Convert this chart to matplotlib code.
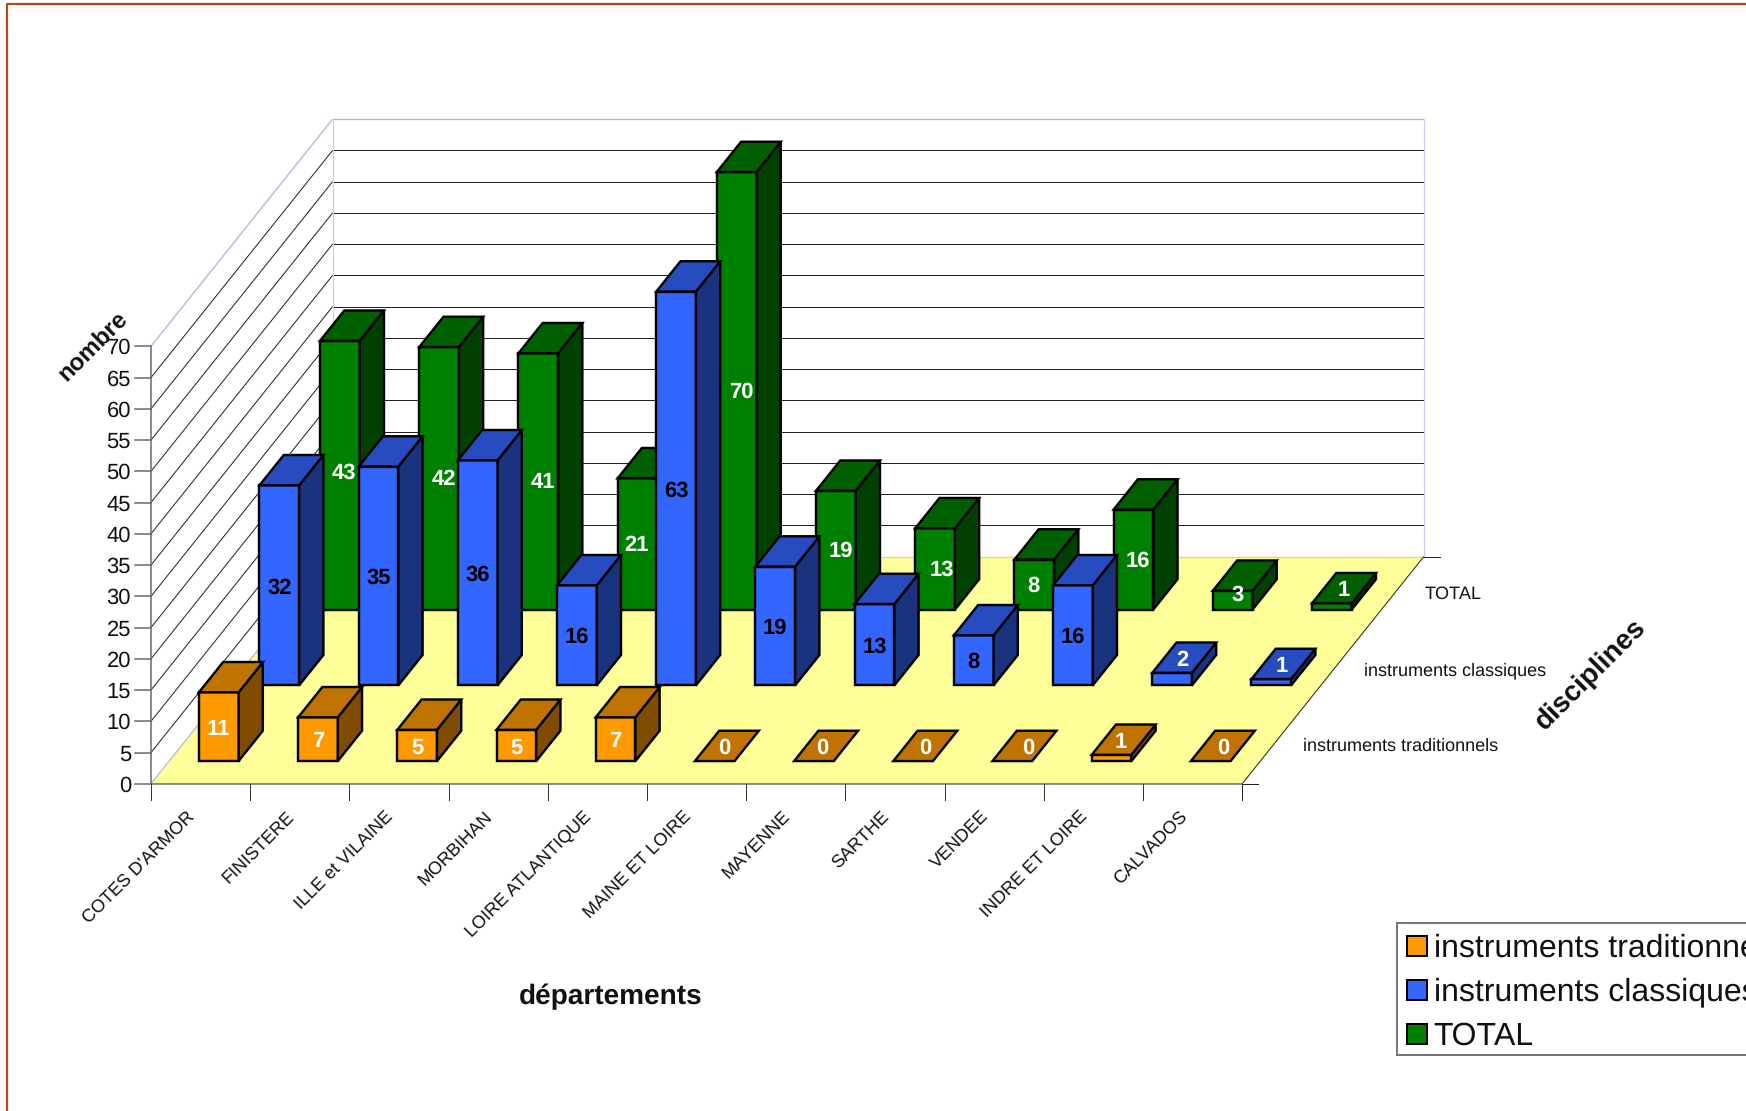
#!/usr/bin/env python3
# Oblique 3D column chart, drawn by hand on a pixel-sized axes
import matplotlib
matplotlib.use('Agg')
import matplotlib.pyplot as plt
from matplotlib.patches import Polygon, Rectangle

plt.rcParams['font.family'] = ['Liberation Sans', 'DejaVu Sans']
plt.rcParams['text.hinting'] = 'no_hinting'
plt.rcParams['text.hinting_factor'] = 1

# Data
departements = ["COTES D'ARMOR", "FINISTERE", "ILLE et VILAINE", "MORBIHAN",
                "LOIRE ATLANTIQUE", "MAINE ET LOIRE", "MAYENNE", "SARTHE",
                "VENDEE", "INDRE ET LOIRE", "CALVADOS"]
disciplines = ["instruments traditionnels", "instruments classiques", "TOTAL"]
traditionnels = [11, 7, 5, 5, 7, 0, 0, 0, 0, 1, 0]
classiques = [32, 35, 36, 16, 63, 19, 13, 8, 16, 2, 1]
total = [43, 42, 41, 21, 70, 19, 13, 8, 16, 3, 1]
y_ticks = list(range(0, 75, 5))

series = [traditionnels, classiques, total]

# Scene geometry, in pixels
X0, Y0 = 151.0, 783.8      # front left corner of the floor
CAT_W = 99.2               # width of one category
DEPTH_X = 181.7 / 3        # horizontal shift of one series slot
DEPTH_Y = 227.3 / 3        # vertical shift of one series slot
UNIT = 6.25                # pixels for one value unit
BAR = 0.4                  # bar size as part of its slot
PX = 0.72                  # points for one pixel at dpi 100

FACES = [('#FF9900', '#BF7300', '#804C00'),
         ('#3366FF', '#264CBF', '#19337F'),
         ('#008000', '#006000', '#004000')]
LABEL_COLORS = ['white', 'black', 'white']
LILAC = '#CCCCFF'
LILAC_DARK = '#B3B3D9'
AXIS_GREY = '#666666'


def project(cat, depth, value=0.0):
    x = X0 + cat * CAT_W + depth * DEPTH_X
    y = Y0 - depth * DEPTH_Y - value * UNIT
    return x, y


fig = plt.figure(figsize=(17.46, 11.11), dpi=100)
ax = fig.add_axes([0, 0, 1, 1])
ax.set_xlim(0, 1746)
ax.set_ylim(1111, 0)
ax.axis('off')

n_cat = len(departements)
n_ser = len(disciplines)
v_max = y_ticks[-1]


def line(p, q, color='black', lw=1.0):
    ax.plot([p[0], q[0]], [p[1], q[1]], color=color, lw=lw * PX,
            solid_capstyle='butt')


# Page frame
ax.plot([7, 7, 1746], [1111, 3.5, 3.5], color='#B04A1C', lw=2.2 * PX)

# Floor
ax.add_patch(Polygon([project(0, 0), project(n_cat, 0),
                      project(n_cat, n_ser), project(0, n_ser)],
                     closed=True, fc='#FFFF99', ec='none'))

# Wall grid
for v in y_ticks[1:-1]:
    line(project(0, 0, v), project(0, n_ser, v), '#222222')
    line(project(0, n_ser, v), project(n_cat, n_ser, v), '#222222')
line(project(0, 0, v_max), project(0, n_ser, v_max), LILAC_DARK, 1.3)
line(project(0, n_ser, v_max), project(n_cat, n_ser, v_max), LILAC_DARK, 1.3)
line(project(0, n_ser, 0), project(0, n_ser, v_max), LILAC, 1.2)
line(project(n_cat, n_ser, 0), project(n_cat, n_ser, v_max), LILAC, 1.2)
line(project(0, n_ser, 0), project(n_cat, n_ser, 0), LILAC, 1.2)
line(project(0, 0, 0), project(0, n_ser, 0), LILAC_DARK, 1.2)
line(project(n_cat, 0, 0), project(n_cat, n_ser, 0), '#222222')

# Value axis
line(project(0, 0, 0), project(0, 0, v_max), AXIS_GREY, 1.5)
for v in y_ticks:
    x, y = project(0, 0, v)
    ax.plot([x - 16, x], [y, y], color=AXIS_GREY, lw=1.5 * PX)
    ax.text(x - 20, y, str(v), ha='right', va='center_baseline', fontsize=16,
            color='#111111')

# Category axis
line(project(0, 0, 0), project(n_cat, 0, 0), AXIS_GREY, 1.5)
for i in range(n_cat + 1):
    x, y = project(i, 0)
    ax.plot([x, x], [y, y + 16], color='#333333', lw=1.0 * PX)
for i, name in enumerate(departements):
    x, y = project(i + 0.5, 0)
    ax.text(x - 8.5, y + 30, name, rotation=45, rotation_mode='anchor',
            ha='right', va='center', fontsize=12.8, color='#111111')

# Depth axis
for d in (0, n_ser):
    x, y = project(n_cat, d)
    ax.plot([x, x + 16], [y, y], color='#222222', lw=1.0 * PX)
x, y = project(n_cat, 0)
ax.plot([x, x], [y, y + 16], color='#222222', lw=1.0 * PX)
for j, name in enumerate(disciplines):
    x, y = project(n_cat, j + 0.5)
    ax.text(x + 31, y, name, ha='left', va='center', fontsize=12.8,
            color='#111111')

# Bars, back series first
margin = (1 - BAR) / 2
for j in reversed(range(n_ser)):
    front, top, side = FACES[j]
    for i, v in enumerate(series[j]):
        c0, c1 = i + margin, i + 1 - margin
        d0, d1 = j + margin, j + 1 - margin
        faces = [
            ([project(c0, d0), project(c1, d0), project(c1, d0, v), project(c0, d0, v)], front),
            ([project(c1, d0), project(c1, d1), project(c1, d1, v), project(c1, d0, v)], side),
            ([project(c0, d0, v), project(c1, d0, v), project(c1, d1, v), project(c0, d1, v)], top),
        ]
        for pts, col in faces:
            if v == 0 and col != top:
                continue
            ax.add_patch(Polygon(pts, closed=True, fc=col, ec='black', zorder=3,
                                 lw=2.4 * PX, joinstyle='miter'))

# Value labels: centred on the front face, or on the top face of short bars
for j in range(n_ser):
    for i, v in enumerate(series[j]):
        col = LABEL_COLORS[j]
        if v <= 2:
            x, y = project(i + 0.5, j + 0.5, v)
            col = 'white'
            if j == 0:
                x += {5: -3, 6: -3.5, 8: 3.5, 9: -3}.get(i, 0)
            elif j == 1:
                x += -2
        else:
            x, y = project(i + 0.5, j + margin, v / 2)
            if j == 2:
                x += {3: -1.5, 6: 6.5, 7: -0.5}.get(i, 4.5)
                y -= {0: 4, 9: 7}.get(i, 1)
        ax.text(x, y, str(v), ha='center', va='center_baseline', fontsize=16,
                fontweight='bold', color=col, zorder=10)

# Axis titles
ax.text(93, 346, 'nombre', rotation=45, ha='center', va='center',
        fontsize=17.5, fontweight='bold', color='#111111', zorder=10)
ax.text(611, 996.5, 'départements', ha='center', va='center',
        fontsize=20, fontweight='bold', color='#111111')
ax.text(1591, 675, 'disciplines', rotation=45, ha='center', va='center',
        fontsize=20, fontweight='bold', color='#111111')

# Legend, running off the right edge like the original
ax.add_patch(Rectangle((1397, 923), 400, 132, fc='white', ec='#777777',
                       lw=2.0 * PX, clip_on=True))
for j, name in enumerate(disciplines):
    y = 946 + j * 44
    ax.add_patch(Rectangle((1406.5, y - 10), 20, 20, fc=FACES[j][0], ec='black',
                           lw=2.0 * PX))
    ax.text(1433.5, y - 1, name, ha='left', va='center_baseline', fontsize=23,
            color='#111111')

fig.savefig('out.png', dpi=100)
